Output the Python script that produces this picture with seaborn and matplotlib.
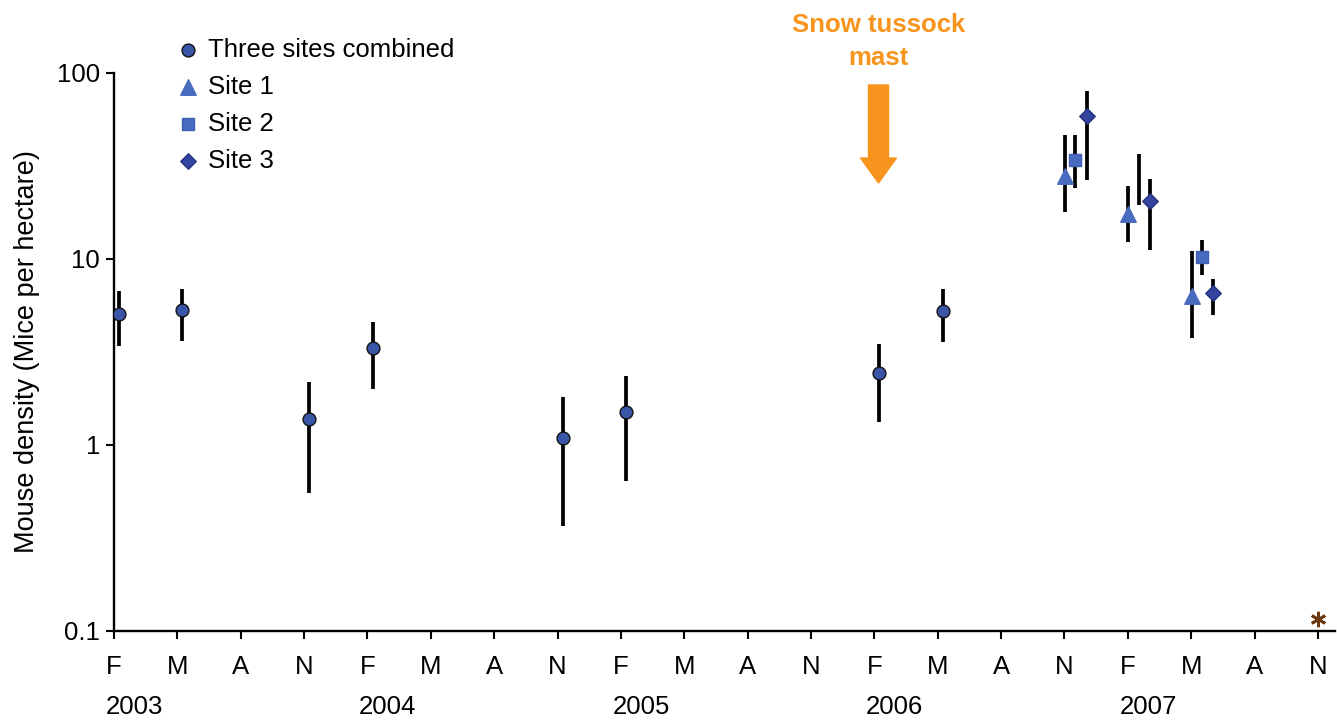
import numpy as np
import pandas as pd
import matplotlib
matplotlib.use("Agg")
import matplotlib.pyplot as plt
import seaborn as sns
from matplotlib.patches import FancyArrow
from matplotlib.ticker import NullLocator

sns.set_style("ticks")
plt.rcParams['font.family'] = ['Liberation Sans', 'DejaVu Sans']
plt.rcParams['text.color'] = 'black'
plt.rcParams['axes.labelcolor'] = 'black'
plt.rcParams['xtick.color'] = 'black'
plt.rcParams['ytick.color'] = 'black'

# ---------------- data ----------------
month_labels = ['F', 'M', 'A', 'N'] * 5
year_labels = ['2003', '2004', '2005', '2006', '2007']
year_start_idx = [0, 4, 8, 12, 16]

combined_idx = [0, 1, 3, 4, 7, 8, 12, 13]
combined_mean = [5.06, 5.30, 1.38, 3.32, 1.09, 1.51, 2.43, 5.25]
combined_low = [3.41, 3.63, 0.55, 2.00, 0.367, 0.64, 1.33, 3.59]
combined_high = [6.69, 6.90, 2.19, 4.58, 1.81, 2.35, 3.48, 6.87]

site1_idx = [15, 16, 17]
site1_mean = [28.0, 17.5, 6.35]
site1_low = [17.8, 12.4, 3.75]
site1_high = [46.7, 24.8, 11.0]

site2_idx = [15, 16, 17]
site2_mean = [34.0, np.nan, 10.25]
site2_low = [24.1, 19.6, 8.2]
site2_high = [46.7, 36.9, 12.6]

site3_idx = [15, 16, 17]
site3_mean = [58.6, 20.4, 6.6]
site3_low = [26.7, 11.2, 5.0]
site3_high = [80.0, 27.0, 7.8]

# ---------------- figure ----------------
W, H = 1337, 720
fig = plt.figure(figsize=(W / 100, H / 100), dpi=100)
ax = fig.add_axes([114 / W, 1 - 631 / H, (1335 - 114) / W, (631 - 73) / H])
ax.set_yscale('log')

FS = 18.5


def draw(idx, mean, low, high, offset, marker, color, edge, size, label):
    x = np.array(idx, dtype=float) + offset
    ax.vlines(x, low, high, color='black', lw=2.7, zorder=2)
    df = pd.DataFrame({'x': x, 'y': mean}).dropna()
    sns.scatterplot(data=df, x='x', y='y', marker=marker, s=size, color=color,
                    edgecolor=edge, linewidth=1.0, zorder=3, ax=ax, label=label)


draw(combined_idx, combined_mean, combined_low, combined_high, 0.08, 'o',
     '#3A55A8', '#111111', 85, 'Three sites combined')
draw(site1_idx, site1_mean, site1_low, site1_high, 0.01, '^',
     '#4A6CC0', '#4A6CC0', 125, 'Site 1')
draw(site2_idx, site2_mean, site2_low, site2_high, 0.17, 's',
     '#4A6CC0', '#3E5FB3', 85, 'Site 2')
draw(site3_idx, site3_mean, site3_low, site3_high, 0.35, 'D',
     '#33449E', '#26337F', 62, 'Site 3')

# asterisk at the end of the axis
ax.plot([19], [0.1], marker=(6, 2, 0), markersize=11, color='#6B3A12',
        markeredgewidth=2.0, clip_on=False, zorder=5,
        transform=ax.transData + matplotlib.transforms.ScaledTranslation(0, 12 / 100, fig.dpi_scale_trans))

# axes
ax.set_xlim(0, 19.27)
ax.set_ylim(0.1, 100)
ax.set_yticks([0.1, 1, 10, 100])
ax.set_yticklabels(['0.1', '1', '10', '100'])
ax.yaxis.set_minor_locator(NullLocator())
ax.set_xticks(range(len(month_labels)))
ax.set_xticklabels(month_labels)
ax.set_xlabel('')
ax.set_ylabel('Mouse density (Mice per hectare)', fontsize=19.5, labelpad=12)

for s in ['top', 'right']:
    ax.spines[s].set_visible(False)
for s in ['left', 'bottom']:
    ax.spines[s].set_linewidth(1.7)
    ax.spines[s].set_color('black')
ax.tick_params(axis='both', which='major', direction='out', length=6,
               width=1.5, color='black', labelsize=FS, labelcolor='black')
ax.tick_params(axis='x', pad=11)
ax.tick_params(axis='y', pad=4)

# year labels
for yl, xi in zip(year_labels, year_start_idx):
    ax.annotate(yl, xy=(xi + 0.32, 0), xycoords=('data', 'axes fraction'),
                xytext=(0, -60), textcoords='offset points',
                ha='center', va='baseline', fontsize=FS)

# legend
leg = ax.legend(loc='upper left', bbox_to_anchor=(178 / W, 1 - 38 / H),
                bbox_transform=fig.transFigure, frameon=False, fontsize=FS,
                handlelength=0.8, handletextpad=0.35, labelspacing=0.5,
                borderpad=0, borderaxespad=0, markerscale=1.0)

# annotation: arrow + text
orange = '#F7941D'
ax_x = 878.5
fig.text(ax_x / W, 1 - 32 / H, 'Snow tussock', ha='center', va='baseline',
         fontsize=18.5, fontweight='bold', color=orange)
fig.text(ax_x / W, 1 - 65 / H, 'mast', ha='center', va='baseline',
         fontsize=18.5, fontweight='bold', color=orange)
arrow = FancyArrow(ax_x / W, 1 - 85 / H, 0, -(183 - 85) / H,
                   width=20 / W, head_width=36 / W, head_length=(183 - 158) / H,
                   length_includes_head=True, color=orange,
                   transform=fig.transFigure, figure=fig)
fig.patches.append(arrow)

fig.savefig('out.png', dpi=100)
